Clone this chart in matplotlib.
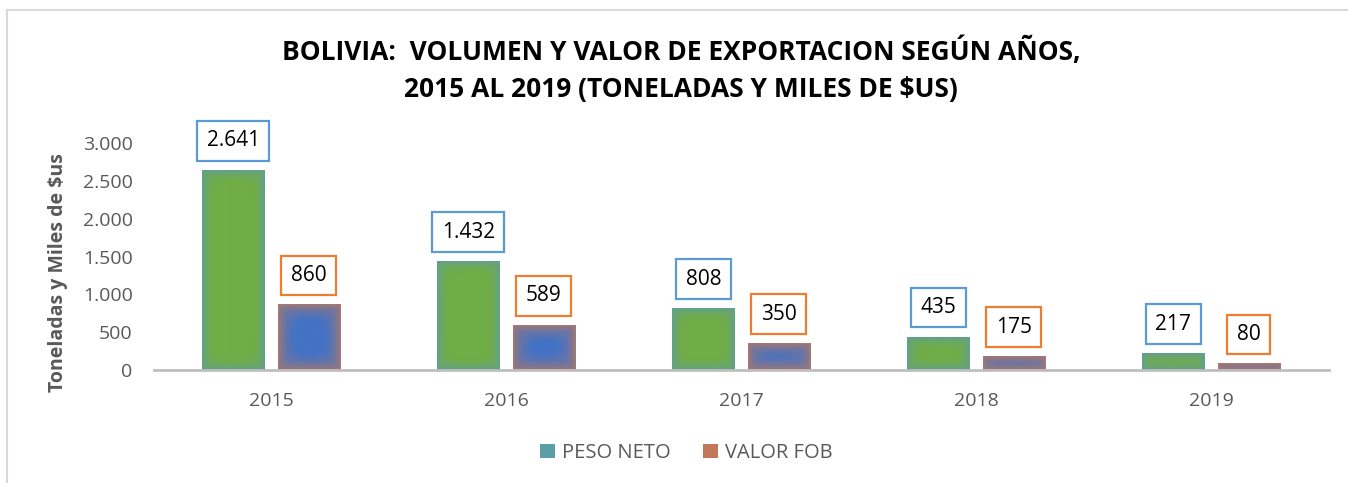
"""
Bolivia: volumen y valor de exportacion 2015-2019
"""
import numpy as np
import matplotlib
matplotlib.use("Agg")
import matplotlib.pyplot as plt
from matplotlib.colors import to_rgb
from matplotlib.patches import Patch, Rectangle

plt.rcParams['font.family'] = ['Open Sans', 'DejaVu Sans']

# datos
years = ['2015', '2016', '2017', '2018', '2019']
peso_neto = [2641, 1432, 808, 435, 217]
valor_fob = [860, 589, 350, 175, 80]
peso_labels = ['2.641', '1.432', '808', '435', '217']
fob_labels = ['860', '589', '350', '175', '80']
yticks = [0, 500, 1000, 1500, 2000, 2500, 3000]
ytick_labels = ['0', '500', '1.000', '1.500', '2.000', '2.500', '3.000']

GRAY = '#595959'


def gradient_bar(ax, x0, width, height, center, edge, soft=11):
    """Barra con borde difuminado (centro -> borde)"""
    if height <= 0:
        return
    ppx = ax.transData.transform((1, 0))[0] - ax.transData.transform((0, 0))[0]
    ppy = ax.transData.transform((0, 1))[1] - ax.transData.transform((0, 0))[1]
    w = max(int(round(width * ppx)), 2)
    h = max(int(round(height * ppy)), 2)
    xx = np.arange(w) + 0.5
    yy = np.arange(h) + 0.5
    dx = np.minimum(xx, w - xx)
    dy = np.minimum(yy, h - yy)
    # mezcla suave entre la distancia horizontal y vertical
    d = 1.0 / np.sqrt(1.0 / dx[None, :] ** 2 + 1.0 / dy[:, None] ** 2)
    t = np.clip(d / soft, 0, 1)
    t = np.sqrt(t)
    t = t[..., None]
    c = np.array(to_rgb(center))
    e = np.array(to_rgb(edge))
    img = e * (1 - t) + c * t
    ax.imshow(img, extent=(x0, x0 + width, 0, height), aspect='auto',
              interpolation='bilinear', zorder=2, origin='lower')


fig = plt.figure(figsize=(13.48, 4.83), dpi=100)
ax = fig.add_axes([153.5 / 1348, 1 - 370 / 483, 1175 / 1348, 227 / 483])

x = np.arange(len(years))
bw = 0.264
off = 0.16

ax.set_xlim(-0.5, len(years) - 0.5)
ax.set_ylim(0, 3000)

for i in range(len(years)):
    gradient_bar(ax, x[i] - off - bw / 2, bw, peso_neto[i], '#70AD47', '#5F9CA2', soft=10)
    gradient_bar(ax, x[i] + off - bw / 2, bw, valor_fob[i], '#4472C4', '#BE7A5C', soft=14)

# etiquetas de datos
for i in range(len(years)):
    ax.annotate(peso_labels[i], (x[i] - off, peso_neto[i]), xytext=(0, 19),
                textcoords='offset pixels', ha='center', va='bottom',
                fontsize=15, color='black', annotation_clip=False,
                bbox=dict(boxstyle='square,pad=0.45', fc='white', ec='#5B9BD5', lw=1.6))
    ax.annotate(fob_labels[i], (x[i] + off, valor_fob[i]), xytext=(0, 19),
                textcoords='offset pixels', ha='center', va='bottom',
                fontsize=15, color='black', annotation_clip=False,
                bbox=dict(boxstyle='square,pad=0.45', fc='white', ec='#ED7D31', lw=1.6))

ax.set_xticks(x)
ax.set_xticklabels(years)
ax.set_yticks(yticks)
ax.set_yticklabels(ytick_labels)
ax.tick_params(axis='both', length=0, labelsize=14, labelcolor=GRAY)
ax.tick_params(axis='y', pad=15)
ax.tick_params(axis='x', pad=16)

for s in ['top', 'right', 'left']:
    ax.spines[s].set_visible(False)
ax.spines['bottom'].set_color('#BFBFBF')
ax.spines['bottom'].set_linewidth(2)
ax.spines['bottom'].set_zorder(3)

fig.text(58 / 1348, 1 - 273 / 483, 'Toneladas y Miles de $us', rotation=90,
         ha='center', va='center', fontsize=14, fontweight='bold', color=GRAY)

fig.text(681 / 1348, 1 - 52 / 483, 'BOLIVIA:  VOLUMEN Y VALOR DE EXPORTACION SEGÚN AÑOS,',
         ha='center', va='center', fontsize=19, fontweight='bold', color='black')
fig.text(681 / 1348, 1 - 90 / 483, '2015 AL 2019 (TONELADAS Y MILES DE $US)',
         ha='center', va='center', fontsize=19, fontweight='bold', color='black')

handles = [Patch(facecolor='#5B9EA6', edgecolor='none', label='PESO NETO'),
           Patch(facecolor='#C07858', edgecolor='none', label='VALOR FOB')]
fig.legend(handles=handles, loc='center', bbox_to_anchor=(686 / 1348, 1 - 453 / 483),
           ncol=2, frameon=False, fontsize=14.5, labelcolor=GRAY,
           handlelength=0.75, handleheight=0.75, handletextpad=0.35, columnspacing=1.6)

# marco del grafico
fig.patches.append(Rectangle((7 / 1348, -0.1), 1.2, 1 - 10 / 483 + 0.1,
                             transform=fig.transFigure, fill=False,
                             edgecolor='#D9D9D9', lw=1.5))

fig.savefig('out.png', dpi=100)
